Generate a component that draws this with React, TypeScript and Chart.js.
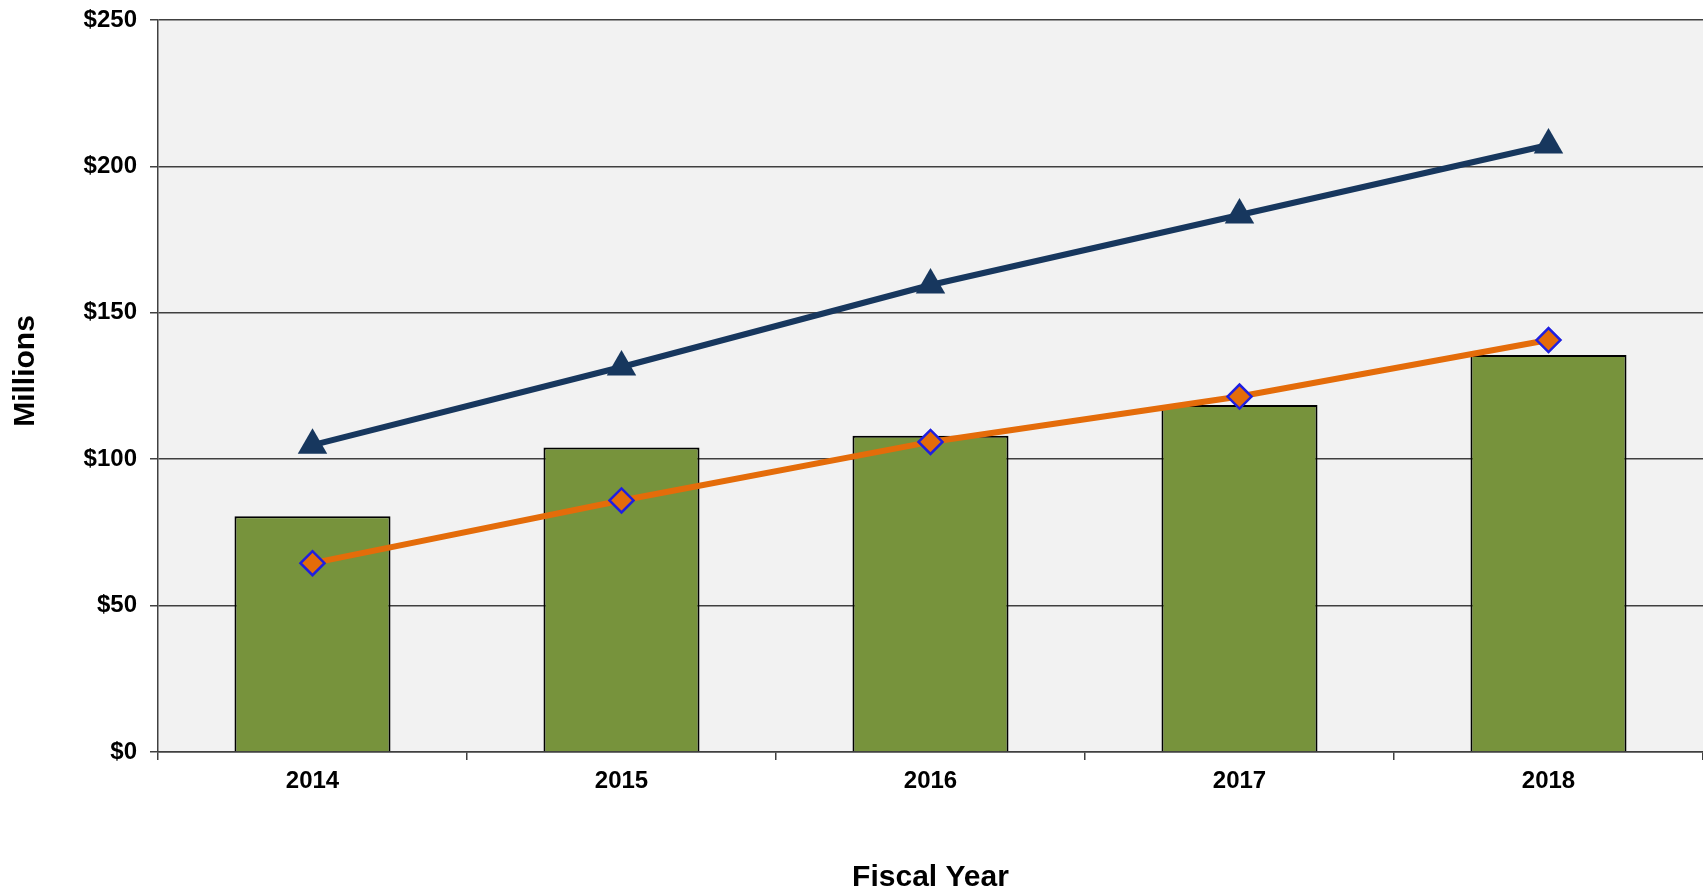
import React, { useEffect, useRef } from "react";
import { Chart, registerables } from "chart.js";

Chart.register(...registerables);

const categories = ["2014", "2015", "2016", "2017", "2018"];
const barValues = [80.5, 104, 108, 118.5, 135.6];
const triangleValues = [104.8, 131.5, 159.5, 183.4, 207.3];
const diamondValues = [64.5, 85.9, 105.9, 121.4, 140.7];
const yTickValues = [0, 50, 100, 150, 200, 250];
const yTitleText = "Millions";
const xTitleText = "Fiscal Year";

const FONT = "'Liberation Sans', Arial, sans-serif";

const plotBg = {
  id: "plotBg",
  beforeDraw(chart: any) {
    const { ctx, chartArea } = chart;
    ctx.save();
    ctx.fillStyle = "#F2F2F2";
    ctx.fillRect(chartArea.left, chartArea.top, chartArea.right - chartArea.left, chartArea.bottom - chartArea.top);
    ctx.restore();
  },
};

const yTitle = {
  id: "yTitle",
  afterDraw(chart: any) {
    const { ctx } = chart;
    ctx.save();
    ctx.translate(26, 371);
    ctx.rotate(-Math.PI / 2);
    ctx.font = `bold 30px ${FONT}`;
    ctx.fillStyle = "#000";
    ctx.textAlign = "center";
    ctx.textBaseline = "middle";
    ctx.fillText(yTitleText, 0, 0);
    ctx.restore();
  },
};

export default function App() {
  const ref = useRef<HTMLCanvasElement | null>(null);

  useEffect(() => {
    if (!ref.current) return;
    const chart = new Chart(ref.current, {
      type: "bar",
      data: {
        labels: categories,
        datasets: [
          {
            type: "line",
            label: "Triangle series",
            data: triangleValues,
            borderColor: "#17375E",
            backgroundColor: "#17375E",
            borderWidth: 6,
            pointStyle: "triangle",
            pointRadius: 17,
            pointBorderWidth: 0,
            pointBackgroundColor: "#17375E",
            order: 1,
          } as any,
          {
            type: "line",
            label: "Diamond series",
            data: diamondValues,
            borderColor: "#E46C0A",
            backgroundColor: "#E46C0A",
            borderWidth: 6,
            pointStyle: "rectRot",
            pointRadius: 12,
            pointBorderWidth: 2.5,
            pointBorderColor: "#1F1FE0",
            pointBackgroundColor: "#E46C0A",
            order: 2,
          } as any,
          {
            type: "bar",
            label: "Bars",
            data: barValues,
            backgroundColor: "#77933C",
            borderColor: "#000000",
            borderWidth: 2,
            categoryPercentage: 1,
            barPercentage: 0.505,
            order: 3,
          },
        ],
      },
      options: {
        animation: false,
        responsive: false,
        maintainAspectRatio: false,
        layout: { autoPadding: false, padding: { top: 20, right: 0, left: 0, bottom: 0 } },
        plugins: {
          legend: { display: false },
          tooltip: { enabled: false },
        },
        scales: {
          x: {
            offset: true,
            grid: {
              offset: true,
              drawOnChartArea: false,
              drawTicks: true,
              tickLength: 8,
              color: "#404040",
              lineWidth: 1.5,
            },
            border: { color: "#404040", width: 1.5 },
            ticks: {
              color: "#000",
              padding: 7,
              font: { family: FONT, size: 24, weight: "bold" },
            },
            title: {
              display: true,
              text: xTitleText,
              color: "#000",
              padding: { top: 0, bottom: -5 },
              font: { family: FONT, size: 30, weight: "bold" },
            },
            afterFit(scale: any) {
              scale.height = 139;
              scale.paddingLeft = 0;
              scale.paddingRight = 0;
            },
          },
          y: {
            min: 0,
            max: 250,
            afterBuildTicks(scale: any) {
              scale.ticks = yTickValues.map((v) => ({ value: v }));
            },
            grid: {
              drawTicks: true,
              tickLength: 8,
              color: "#404040",
              lineWidth: 1.5,
            },
            border: { color: "#404040", width: 1.5 },
            ticks: {
              color: "#000",
              padding: 13,
              font: { family: FONT, size: 24, weight: "bold" },
              callback: (v: any) => "$" + v,
            },
            title: { display: false },
            afterFit(scale: any) {
              scale.width = 158;
              scale.paddingTop = 0;
              scale.paddingBottom = 0;
            },
          },
        },
      },
      plugins: [plotBg, yTitle],
    });
    return () => chart.destroy();
  }, []);

  return (
    <div style={{ position: "fixed", left: 0, top: 0, width: 1703, height: 891, background: "#fff" }}>
      <canvas ref={ref} width={1703} height={891} style={{ width: 1703, height: 891, display: "block" }} />
    </div>
  );
}
